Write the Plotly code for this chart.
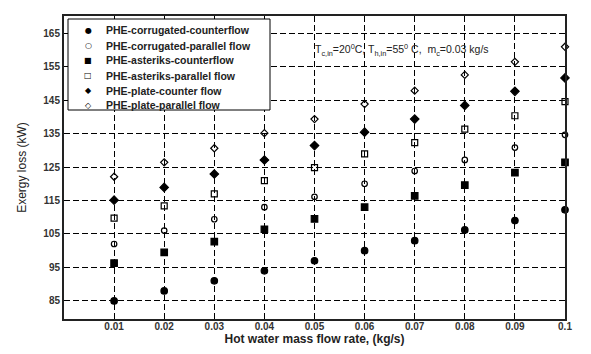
import plotly.graph_objects as go

x_vals = [0.01, 0.02, 0.03, 0.04, 0.05, 0.06, 0.07, 0.08, 0.09, 0.1]
corr_counter = [85, 88, 91, 94, 97, 100, 103, 106.2, 109, 112.2]
corr_parallel = [102, 106, 109.4, 113, 116.1, 120, 123.8, 127.1, 130.8, 134.6]
ast_counter = [96.3, 99.5, 102.7, 106.4, 109.5, 113, 116.4, 119.6, 123.3, 126.4]
ast_parallel = [109.7, 113.4, 117, 120.9, 124.8, 128.9, 132.3, 136.3, 140.3, 144.5]
plate_counter = [115.1, 118.9, 122.9, 127.1, 131.4, 135.4, 139.3, 143.4, 147.6, 151.6]
plate_parallel = [122.1, 126.4, 130.6, 135.1, 139.3, 143.8, 147.8, 152.5, 156.4, 160.9]

names = ["PHE-corrugated-counterflow", "PHE-corrugated-parallel flow",
         "PHE-asteriks-counterflow", "PHE-asteriks-parallel flow",
         "PHE-plate-counter flow", "PHE-plate-parallel flow"]
series = [corr_counter, corr_parallel, ast_counter, ast_parallel, plate_counter, plate_parallel]
symbols = ["circle", "circle-open", "square", "square-open", "diamond", "diamond-open"]
sizes = [6.5, 5.5, 6.5, 6, 6.5, 5.5]
legend_glyphs = ["●", "○", "■", "□", "◆", "◇"]

y_ticks = [85, 95, 105, 115, 125, 135, 145, 155, 165]
x_ticks = [0.01, 0.02, 0.03, 0.04, 0.05, 0.06, 0.07, 0.08, 0.09, 0.1]
x_ticklabels = ["0.01", "0.02", "0.03", "0.04", "0.05", "0.06", "0.07", "0.08", "0.09", "0.1"]

FONT = "Liberation Sans, Arial, sans-serif"

W, H = 591, 354
ML, MR, MT, MB = 64, 26, 16, 35
PW, PH = W - ML - MR, H - MT - MB


def px_x(px):
    return (px - ML) / PW


def px_y(py):
    return (H - MB - py) / PH


fig = go.Figure()
for n, s, sym, sz in zip(names, series, symbols, sizes):
    fig.add_trace(go.Scatter(
        x=x_vals, y=s, mode="markers", name=n, cliponaxis=False, showlegend=False,
        marker=dict(symbol=sym, size=sz, color="black", line=dict(color="black", width=1.2)),
    ))

# legend box (manual, to match compact row spacing)
fig.add_shape(type="rect", xref="paper", yref="paper",
              x0=px_x(68), x1=px_x(270), y0=px_y(110), y1=px_y(19),
              line=dict(color="black", width=1), fillcolor="white", layer="above")
for i, (n, g) in enumerate(zip(names, legend_glyphs)):
    yy = px_y(30.5 + 15 * i)
    fig.add_annotation(x=px_x(88), y=yy, xref="paper", yref="paper", showarrow=False,
                       xanchor="center", yanchor="middle", text=g,
                       font=dict(family="DejaVu Sans", size=8, color="black"))
    fig.add_annotation(x=px_x(104), y=yy, xref="paper", yref="paper", showarrow=False,
                       xanchor="left", yanchor="middle", text="<b>" + n + "</b>",
                       font=dict(family=FONT, size=10.5, color="#222"))

fig.add_annotation(
    x=0.0497, y=160, xref="x", yref="y", xanchor="left", yanchor="middle", showarrow=False,
    text="T<sub>c,in</sub>=20<sup>0</sup>C, T<sub>h,in</sub>=55<sup>0</sup> C,  m<sub>c</sub>=0.03 kg/s",
    font=dict(family=FONT, size=10.5, color="#222"),
)

fig.update_layout(
    width=W, height=H,
    margin=dict(l=ML, r=MR, t=MT, b=MB),
    paper_bgcolor="white", plot_bgcolor="white",
    font=dict(family=FONT, color="#222"),
    showlegend=False,
)
fig.update_xaxes(
    range=[0, 0.1], tickvals=x_ticks, ticktext=x_ticklabels,
    showgrid=True, gridcolor="black", griddash="6px,3px", gridwidth=1,
    ticks="inside", ticklen=5, tickcolor="black", tickwidth=1,
    showline=True, linecolor="#222", linewidth=2, mirror="ticks",
    zeroline=False, ticklabelstandoff=-3,
    tickfont=dict(family=FONT, size=10, color="#333", weight="bold"),
    title=dict(text="<b>Hot water mass flow rate, (kg/s)</b>", standoff=1,
               font=dict(family=FONT, size=12, color="#222")),
)
fig.update_yaxes(
    range=[79.6, 170.1], tickvals=y_ticks,
    showgrid=True, gridcolor="black", griddash="6px,3px", gridwidth=1,
    ticks="inside", ticklen=5, tickcolor="black", tickwidth=1,
    showline=True, linecolor="#222", linewidth=2, mirror="ticks",
    zeroline=False,
    tickfont=dict(family=FONT, size=10, color="#333", weight="bold"),
    title=dict(text="Exergy loss (kW)", standoff=14,
               font=dict(family=FONT, size=12, color="#222")),
)

fig.write_html("out.html", config={"displayModeBar": False},
               post_script="document.body.style.margin='0px';")
